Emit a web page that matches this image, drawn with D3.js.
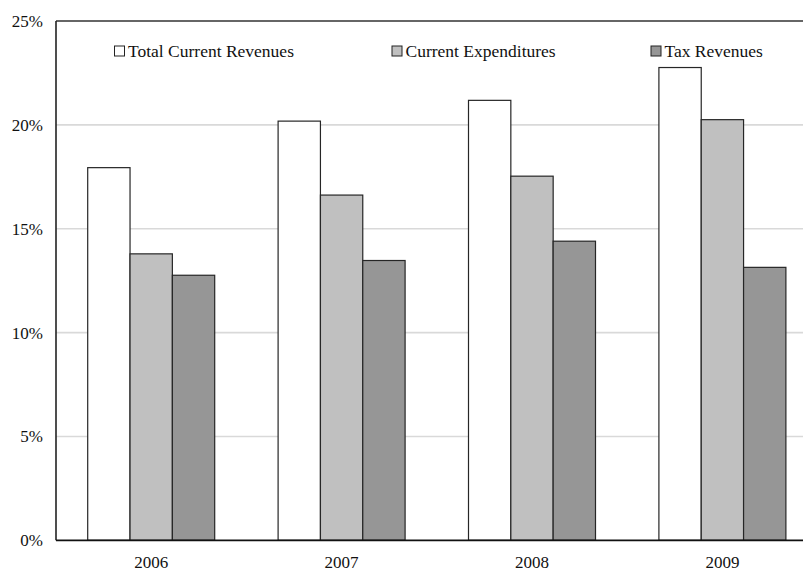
<!DOCTYPE html>
<html>
<head>
<meta charset="utf-8">
<script src="https://cdn.jsdelivr.net/npm/d3@7"></script>
<style>
  html, body { margin: 0; padding: 0; background: #fff; }
  svg { display: block; font-family: "Liberation Serif", "Times New Roman", serif; }
</style>
</head>
<body>
<svg id="chart" width="803" height="574"></svg>
<script>
// Fiscal aggregates as a share of GDP
const years = ["2006", "2007", "2008", "2009"];
const seriesNames = ["Total Current Revenues", "Current Expenditures", "Tax Revenues"];
const totalCurrentRevenues = [17.94, 20.18, 21.18, 22.76];
const currentExpenditures = [13.79, 16.62, 17.53, 20.25];
const taxRevenues = [12.76, 13.47, 14.40, 13.14];
const yTicks = [0, 5, 10, 15, 20, 25];
const seriesColors = ["#ffffff", "#c0c0c0", "#969696"];

const series = [totalCurrentRevenues, currentExpenditures, taxRevenues];

const svg = d3.select("#chart");
const plotLeft = 56, plotRight = 817.6, plotTop = 21, plotBottom = 540.3;
const axisFont = 17;
const legendFont = 17.5;

const x = d3.scaleBand().domain(years).range([plotLeft, plotRight]).paddingInner(0.333).paddingOuter(0.1665);
const xs = d3.scaleBand().domain(seriesNames).range([0, x.bandwidth()]);
const y = d3.scaleLinear().domain([0, 25]).range([plotBottom, plotTop]);

// Horizontal gridlines
svg.append("g").selectAll("line")
  .data(yTicks.filter(t => t > 0 && t < 25))
  .join("line")
  .attr("x1", plotLeft).attr("x2", plotRight)
  .attr("y1", d => y(d)).attr("y2", d => y(d))
  .attr("stroke", "#d9d9d9").attr("stroke-width", 1.6);

// Bars
const groups = svg.append("g").selectAll("g")
  .data(years)
  .join("g")
  .attr("transform", d => `translate(${x(d)},0)`);

groups.selectAll("rect")
  .data((d, i) => seriesNames.map((name, k) => ({ name, k, v: series[k][i] })))
  .join("rect")
  .attr("x", d => xs(d.name))
  .attr("width", xs.bandwidth())
  .attr("y", d => y(d.v))
  .attr("height", d => y(0) - y(d.v))
  .attr("fill", d => seriesColors[d.k])
  .attr("stroke", "#262626")
  .attr("stroke-width", 1.2);

// Plot frame: top, left and baseline
svg.append("line").attr("x1", plotLeft).attr("x2", plotRight).attr("y1", plotTop).attr("y2", plotTop)
  .attr("stroke", "#333").attr("stroke-width", 1.5);
svg.append("line").attr("x1", plotLeft).attr("x2", plotLeft).attr("y1", plotTop).attr("y2", plotBottom)
  .attr("stroke", "#222").attr("stroke-width", 1.6);
svg.append("line").attr("x1", plotLeft).attr("x2", plotRight).attr("y1", plotBottom).attr("y2", plotBottom)
  .attr("stroke", "#111").attr("stroke-width", 1.8);

// Y axis labels
const yAxis = d3.axisLeft(y).tickValues(yTicks).tickFormat(d => d + "%").tickSize(0).tickPadding(13);
const ya = svg.append("g").attr("transform", `translate(${plotLeft},0)`).call(yAxis);
ya.select(".domain").remove();
ya.selectAll("text").attr("font-family", "Liberation Serif, serif").attr("font-size", axisFont).attr("fill", "#111");

// X axis labels
const xAxis = d3.axisBottom(x).tickSize(0).tickPadding(16);
const xa = svg.append("g").attr("transform", `translate(0,${plotBottom})`).call(xAxis);
xa.select(".domain").remove();
xa.selectAll("text").attr("font-family", "Liberation Serif, serif").attr("font-size", axisFont).attr("fill", "#111");

// Legend
const legendX = [114.5, 392, 651];
const legend = svg.append("g").selectAll("g")
  .data(seriesNames)
  .join("g")
  .attr("transform", (d, i) => `translate(${legendX[i]},46)`);
legend.append("rect")
  .attr("width", 10).attr("height", 10)
  .attr("fill", (d, i) => seriesColors[i])
  .attr("stroke", "#222").attr("stroke-width", 1);
legend.append("text")
  .attr("x", 13.5).attr("y", 10.5)
  .attr("font-size", legendFont).attr("fill", "#111")
  .text(d => d);
</script>
</body>
</html>
